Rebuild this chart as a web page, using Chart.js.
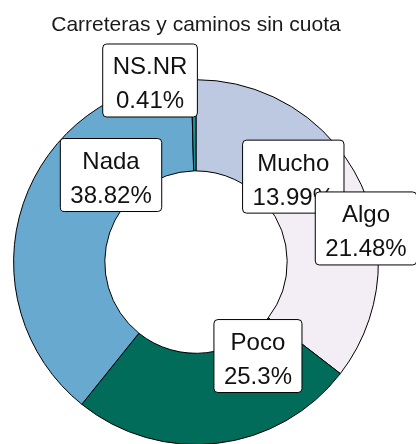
<!DOCTYPE html>
<html lang="es">
<head>
	<title>Carreteras y caminos sin cuota</title>
	<meta charset="utf-8">
	<script src="https://cdn.jsdelivr.net/npm/chart.js@4.4.0/dist/chart.umd.min.js"></script>
	<style type="text/css">
		body { margin: 0; overflow: hidden; background: #fff; }
		#wrap { position: absolute; left: 0; top: 0; width: 416px; height: 446px; }
	</style>
</head>
<body>
<div id="wrap">
	<canvas id="dona" width="416" height="446"></canvas>
</div>
<script type="text/javascript">
	// categorias y porcentajes (orden horario desde arriba)
	var categorias = ["Mucho", "Algo", "Poco", "Nada", "NS.NR"];
	var porcentajes = [13.99, 21.48, 25.3, 38.82, 0.41];
	var etiquetasPct = ["13.99%", "21.48%", "25.3%", "38.82%", "0.41%"];
	var colores = ["#bdc9e1", "#f3edf6", "#016c59", "#67a9cf", "#1c9099"];

	// donde va cada cuadro: angulo (grados desde arriba) y fraccion del radio exterior
	var posAngulo = [48.7, 78.8, 146.6, 315.7, 345.8];
	var posRadio = [0.71, 0.95, 0.617, 0.667, 1.027];

	var fuente = "'Liberation Sans', Arial, sans-serif";

	function cajaRedonda(ctx, x, y, w, h, r) {
		ctx.beginPath();
		ctx.moveTo(x + r, y);
		ctx.lineTo(x + w - r, y);
		ctx.arcTo(x + w, y, x + w, y + r, r);
		ctx.lineTo(x + w, y + h - r);
		ctx.arcTo(x + w, y + h, x + w - r, y + h, r);
		ctx.lineTo(x + r, y + h);
		ctx.arcTo(x, y + h, x, y + h - r, r);
		ctx.lineTo(x, y + r);
		ctx.arcTo(x, y, x + r, y, r);
		ctx.closePath();
	}

	// cuadros blancos con nombre y porcentaje
	var etiquetas = {
		id: "etiquetas",
		afterDatasetsDraw: function(chart) {
			var ctx = chart.ctx;
			var arcos = chart.getDatasetMeta(0).data;
			ctx.save();
			ctx.font = "24px " + fuente;
			ctx.textAlign = "center";
			ctx.textBaseline = "alphabetic";
			for (var i = 0; i < arcos.length; i++) {
				var a = arcos[i];
				var ang = posAngulo[i] * Math.PI / 180;
				var r = a.outerRadius * posRadio[i];
				var cx = a.x + Math.sin(ang) * r;
				var cy = a.y - Math.cos(ang) * r;
				var w = Math.max(ctx.measureText(categorias[i]).width, ctx.measureText(etiquetasPct[i]).width) + 20;
				var h = 73;
				cajaRedonda(ctx, cx - w / 2, cy - h / 2, w, h, 4);
				ctx.fillStyle = "#fff";
				ctx.fill();
				ctx.lineWidth = 1;
				ctx.strokeStyle = "#000";
				ctx.stroke();
				ctx.fillStyle = "#111";
				ctx.fillText(categorias[i], cx, cy - 6);
				ctx.fillText(etiquetasPct[i], cx, cy + 28);
			}
			ctx.restore();
		}
	};

	var ctx = document.querySelector("#dona").getContext("2d");
	new Chart(ctx, {
		type: "doughnut",
		data: {
			labels: categorias,
			datasets: [{
				data: porcentajes,
				backgroundColor: colores,
				borderColor: "#000",
				borderWidth: 1
			}]
		},
		options: {
			responsive: false,
			animation: false,
			cutout: "50%",
			layout: { padding: { left: 13, right: 37, top: 0, bottom: 1 } },
			plugins: {
				legend: { display: false },
				tooltip: { enabled: false },
				title: {
					display: true,
					text: "Carreteras y caminos sin cuota",
					color: "#1a1a1a",
					font: { family: fuente, size: 21, weight: "normal" },
					padding: { top: 13, bottom: 41 }
				}
			}
		},
		plugins: [etiquetas]
	});
</script>
</body>
</html>
